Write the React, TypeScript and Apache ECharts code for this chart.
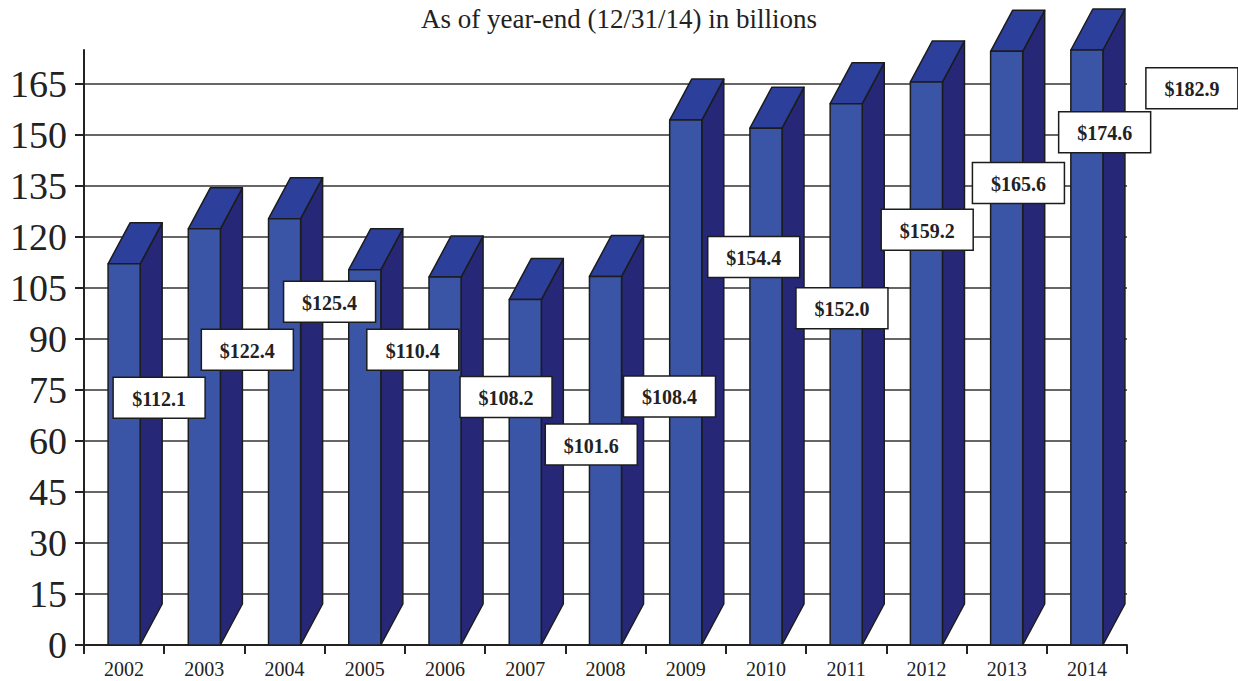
import React, { useEffect, useRef } from "react";
import * as echarts from "echarts";

// ---- data ----
const years = ["2002", "2003", "2004", "2005", "2006", "2007", "2008", "2009", "2010", "2011", "2012", "2013", "2014"];
const assets = [112.1, 122.4, 125.4, 110.4, 108.2, 101.6, 108.4, 154.4, 152.0, 159.2, 165.6, 174.6, 182.9];
const yTicks = [0, 15, 30, 45, 60, 75, 90, 105, 120, 135, 150, 165];
const titleText = "As of year-end (12/31/14) in billions";

// ---- layout / style (not data) ----
const Y_MAX = 175;
// pixel offsets of each value box from the front-top centre of its bar
const labelOffsets: [number, number][] = [
  [35, 134], [43, 121], [45, 83], [48, 80], [61, 120], [66, 145], [64, 120],
  [68, 137], [76, 180], [81, 126], [92, 101], [98, 81], [105, 65],
];
const FONT = '"Liberation Serif", "Times New Roman", serif';
const FRONT = "#3a54a6";
const TOP = "#2c3f9b";
const SIDE = "#262877";
const EDGE = "#1c1c1c";

export default function App() {
  const ref = useRef<HTMLDivElement>(null);
  useEffect(() => {
    if (!ref.current) return;
    const chart = echarts.init(ref.current, null, { renderer: "svg" });
    const data = assets.map((v, i) => [i, v]);
    chart.setOption({
      animation: false,
      backgroundColor: "#ffffff",
      title: {
        text: titleText,
        left: "center",
        top: 0,
        textStyle: { fontFamily: FONT, fontWeight: "normal", fontSize: 27, color: "#222" },
      },
      grid: { left: 84, right: 111, top: 50, bottom: 36, containLabel: false },
      xAxis: {
        type: "category",
        data: years,
        boundaryGap: true,
        axisLine: { lineStyle: { color: "#222", width: 2 } },
        axisTick: { show: true, length: 9, alignWithLabel: false, lineStyle: { color: "#222", width: 2 } },
        axisLabel: { fontFamily: FONT, fontSize: 20, color: "#222", margin: 14 },
        splitLine: { show: false },
      },
      yAxis: {
        type: "value",
        min: 0,
        max: Y_MAX,
        interval: 15,
        axisLine: { show: true, lineStyle: { color: "#222", width: 2 } },
        axisTick: { show: true, length: 9, customValues: yTicks, lineStyle: { color: "#222", width: 2 } },
        axisLabel: { fontFamily: FONT, fontSize: 38, color: "#222", margin: 17, customValues: yTicks },
        splitLine: { show: true, lineStyle: { color: "#333", width: 1.5 } },
      },
      series: [
        {
          type: "custom",
          z: 2,
          data,
          encode: { x: 0, y: 1 },
          clip: false,
          renderItem: (params: any, api: any) => {
            const i = api.value(0);
            const v = Math.min(api.value(1), Y_MAX);
            const top = api.coord([i, v]);
            const base = api.coord([i, 0]);
            const w = api.size([1, 0])[0] * 0.4;
            const x0 = top[0] - w / 2;
            const x1 = top[0] + w / 2;
            const dx = 22;
            const dy = 41;
            const ty = top[1];
            const by = base[1];
            const stroke = { stroke: EDGE, lineWidth: 1.5, lineJoin: "round" };
            return {
              type: "group",
              children: [
                { type: "polygon", shape: { points: [[x1, ty], [x1 + dx, ty - dy], [x1 + dx, by - dy], [x1, by]] }, style: { fill: SIDE, ...stroke } },
                { type: "polygon", shape: { points: [[x0, ty], [x0 + dx, ty - dy], [x1 + dx, ty - dy], [x1, ty]] }, style: { fill: TOP, ...stroke } },
                { type: "rect", shape: { x: x0, y: ty, width: w, height: by - ty }, style: { fill: FRONT, ...stroke } },
              ],
            };
          },
        },
        {
          type: "custom",
          z: 5,
          data,
          encode: { x: 0, y: 1 },
          clip: false,
          renderItem: (params: any, api: any) => {
            const i = api.value(0);
            const v = api.value(1);
            const p = api.coord([i, v]);
            const off = labelOffsets[params.dataIndex];
            const cx = p[0] + off[0];
            const cy = p[1] + off[1];
            const bw = 92;
            const bh = 41;
            return {
              type: "group",
              children: [
                { type: "rect", shape: { x: cx - bw / 2, y: cy - bh / 2, width: bw, height: bh }, style: { fill: "#ffffff", stroke: EDGE, lineWidth: 1.5 } },
                {
                  type: "text",
                  x: cx,
                  y: cy + 1,
                  style: {
                    text: "$" + Number(v).toFixed(1),
                    align: "center",
                    verticalAlign: "middle",
                    fill: "#222",
                    fontFamily: FONT,
                    fontWeight: "bold",
                    fontSize: 20,
                  },
                },
              ],
            };
          },
        },
      ],
    });
    return () => chart.dispose();
  }, []);
  return <div ref={ref} style={{ position: "absolute", left: 0, top: 0, width: 1238, height: 681 }} />;
}
